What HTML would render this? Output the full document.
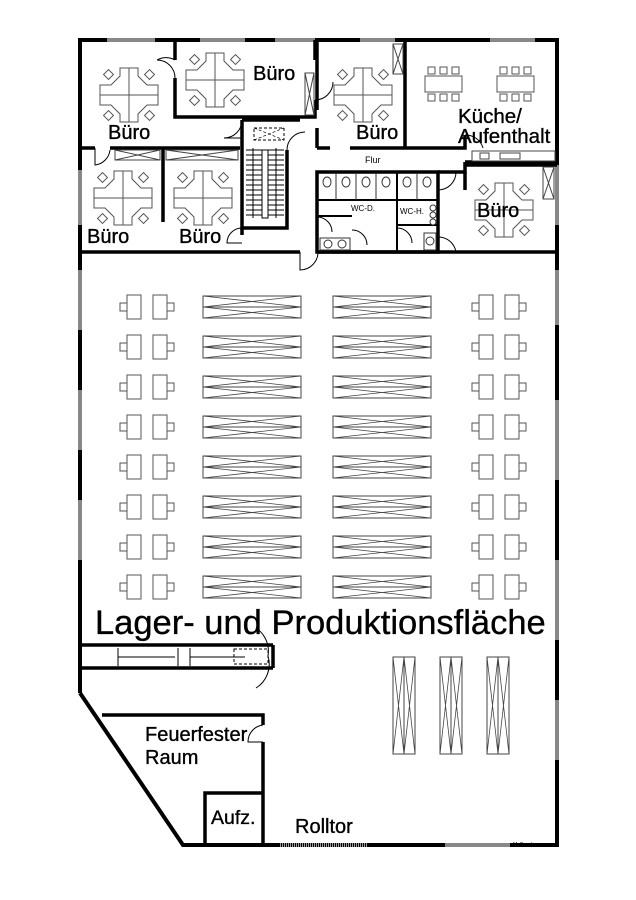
<!DOCTYPE html>
<html><head><meta charset="utf-8"><style>
html,body{margin:0;padding:0;background:#fff;}
svg{display:block;}
text{font-family:"Liberation Sans",sans-serif;fill:#000;}
.t{stroke:#000;stroke-width:0.35;}
</style></head><body>
<svg width="636" height="900" viewBox="0 0 636 900" xmlns="http://www.w3.org/2000/svg">
<defs>
<g id="cl">
  <polygon points="-9,-27 9,-27 9,-19 18,-10 29,-10 29,10 18,10 9,19 9,27 -9,27 -9,19 -18,10 -29,10 -29,-10 -18,-10 -9,-19" fill="#fff" stroke="#555" stroke-width="1"/>
  <line x1="0" y1="-27" x2="0" y2="27" stroke="#555" stroke-width="1"/>
  <line x1="-29" y1="0" x2="29" y2="0" stroke="#555" stroke-width="1"/>
  <rect x="-24" y="-24" width="7" height="7" transform="rotate(45 -20.5 -20.5)" fill="#fff" stroke="#555"/>
  <rect x="17" y="-24" width="7" height="7" transform="rotate(45 20.5 -20.5)" fill="#fff" stroke="#555"/>
  <rect x="-24" y="17" width="7" height="7" transform="rotate(45 -20.5 20.5)" fill="#fff" stroke="#555"/>
  <rect x="17" y="17" width="7" height="7" transform="rotate(45 20.5 20.5)" fill="#fff" stroke="#555"/>
</g>
<g id="shelf">
  <rect x="0" y="0" width="98" height="22" fill="#fff" stroke="#444"/>
  <line x1="0" y1="11" x2="98" y2="11" stroke="#444"/>
  <path d="M0 0 L98 11 M0 11 L98 0 M0 11 L98 22 M0 22 L98 11" stroke="#444" stroke-width="0.8" fill="none"/>
</g>
<g id="dl">
  <rect x="8" y="-12" width="14" height="24" fill="#fff" stroke="#555"/>
  <rect x="1" y="-4" width="7" height="8" fill="#fff" stroke="#555"/>
</g>
<g id="dr">
  <rect x="0" y="-12" width="14" height="24" fill="#fff" stroke="#555"/>
  <rect x="14" y="-4" width="7" height="8" fill="#fff" stroke="#555"/>
</g>
<g id="row">
  <use href="#dl" x="119"/><use href="#dr" x="153"/>
  <use href="#shelf" x="203" y="-11"/><use href="#shelf" x="333" y="-11"/>
  <use href="#dl" x="471"/><use href="#dr" x="505"/>
</g>
<g id="rack">
  <rect x="0" y="0" width="22" height="97" fill="#fff" stroke="#444"/>
  <line x1="11" y1="0" x2="11" y2="97" stroke="#444"/>
  <path d="M0 0 L11 97 M11 0 L0 97 M11 0 L22 97 M22 0 L11 97" stroke="#444" stroke-width="0.8" fill="none"/>
</g>
</defs>

<g stroke="#000" stroke-width="4" fill="none">
  <polyline points="80,693 80,40 557,40 557,845 183,845 80,693"/>
</g>
<g stroke="#888" stroke-width="4">
  <line x1="107" y1="40" x2="155" y2="40"/><line x1="200" y1="40" x2="245" y2="40"/>
  <line x1="275" y1="40" x2="315" y2="40"/><line x1="360" y1="40" x2="395" y2="40"/>
  <line x1="490" y1="40" x2="535" y2="40"/>
  <line x1="80" y1="170" x2="80" y2="225"/><line x1="80" y1="270" x2="80" y2="330"/>
  <line x1="80" y1="390" x2="80" y2="450"/><line x1="80" y1="500" x2="80" y2="560"/>
  <line x1="557" y1="165" x2="557" y2="225"/><line x1="557" y1="270" x2="557" y2="325"/>
  <line x1="557" y1="400" x2="557" y2="480"/><line x1="557" y1="560" x2="557" y2="640"/>
  <line x1="557" y1="700" x2="557" y2="760"/>
  <line x1="445" y1="845" x2="510" y2="845"/>
</g>
<line x1="280" y1="845" x2="368" y2="845" stroke="#999" stroke-width="4" stroke-dasharray="1,1"/>

<g stroke="#000" stroke-width="3.5" fill="none">
  <line x1="80" y1="252" x2="300" y2="252"/><line x1="318" y1="252" x2="557" y2="252"/>
  <line x1="80" y1="148" x2="95" y2="148"/><line x1="110" y1="148" x2="240" y2="148"/>
  <polyline points="175,40 175,60"/><polyline points="175,78 175,117 315,117 315,100"/>
  <polyline points="315,60 315,40"/>
  <line x1="317" y1="40" x2="317" y2="110"/><line x1="317" y1="128" x2="317" y2="148"/>
  <line x1="317" y1="148" x2="330" y2="148"/><line x1="350" y1="148" x2="440" y2="148"/>
  <line x1="405" y1="40" x2="405" y2="148"/>
  <polyline points="440,148 465,148 465,135"/>
  <polyline points="465,162 557,162"/>
  <polyline points="465,162 465,172 438,172"/>
  <line x1="465" y1="165" x2="557" y2="165"/>
  <polyline points="465,172 465,190"/>
  <line x1="163" y1="148" x2="163" y2="222"/>
  <polyline points="242,120 242,228 287,228 287,150"/>
  <line x1="242" y1="120" x2="300" y2="120"/>
  <polyline points="242,228 242,235"/>
  <rect x="317" y="172" width="121" height="80"/>
  <line x1="80" y1="645" x2="273" y2="645"/><line x1="80" y1="668" x2="273" y2="668"/>
  <line x1="273" y1="645" x2="273" y2="668"/>
  <polyline points="102,715 263,715 263,725"/><line x1="263" y1="742" x2="263" y2="845"/>
  <polyline points="205,845 205,793 263,793"/>
</g>
<g stroke="#000" stroke-width="2" fill="none">
  <line x1="397" y1="172" x2="397" y2="252"/>
  <line x1="317" y1="216" x2="352" y2="216"/>
  <line x1="397" y1="225" x2="438" y2="225"/>
  <line x1="317" y1="200" x2="438" y2="200"/>
</g>
<g stroke="#333" stroke-width="1" fill="#fff">
  <line x1="336" y1="173" x2="336" y2="200"/><line x1="356" y1="173" x2="356" y2="200"/>
  <line x1="376" y1="173" x2="376" y2="200"/><line x1="417" y1="173" x2="417" y2="200"/>
  <ellipse cx="327" cy="182" rx="4" ry="5"/><ellipse cx="346" cy="182" rx="4" ry="5"/>
  <ellipse cx="366" cy="182" rx="4" ry="5"/><ellipse cx="386" cy="182" rx="4" ry="5"/>
  <ellipse cx="407" cy="182" rx="4" ry="5"/><ellipse cx="427" cy="182" rx="4" ry="5"/>
  <rect x="320" y="238" width="30" height="12"/>
  <circle cx="328" cy="244" r="4"/><circle cx="342" cy="244" r="4"/>
  <rect x="424" y="233" width="12" height="17"/><circle cx="430" cy="241" r="4"/>
  <circle cx="433" cy="208" r="3"/><circle cx="433" cy="215" r="3"/><circle cx="433" cy="222" r="3"/>
</g>
<g stroke="#000" stroke-width="1" fill="none">
  <path d="M175 60 A18 18 0 0 0 157 60 M175 78 A18 18 0 0 0 157 60"/>
  <path d="M315 100 A18 18 0 0 0 333 82"/>
  <path d="M95 148 L95 165 A17 17 0 0 0 110 150"/>
  <path d="M242 120 A18 18 0 0 1 224 138 L242 138"/>
  <path d="M242 228 A15 15 0 0 0 227 243 L242 243"/>
  <path d="M287 150 A18 18 0 0 1 305 132"/>
  <path d="M465 135 A18 18 0 0 1 483 148"/>
  <path d="M438 172 L438 190 A18 18 0 0 0 456 172"/>
  <path d="M300 252 L300 270 A18 18 0 0 0 318 252"/>
  <path d="M438 237 A18 18 0 0 1 456 252"/>
  <path d="M263 725 A17 17 0 0 0 248 742 L263 742"/>
  <path d="M256 628 A28 28 0 0 1 268 656 A28 28 0 0 1 256 688"/>
  <path d="M317 217 A15 15 0 0 1 332 232 M352 230 A15 15 0 0 1 367 245 M397 228 A15 15 0 0 1 412 243"/>
</g>
<g stroke="#000" stroke-width="1">
  <path d="M246 150 H284 M246 155 H284 M246 160 H284 M246 165 H284 M246 170 H284 M246 175 H284 M246 180 H284 M246 185 H284 M246 190 H284 M246 195 H284 M246 200 H284 M246 205 H284 M246 210 H284 M246 215 H284"/>
  <rect x="262" y="150" width="6" height="68" fill="#fff"/>
  <line x1="253" y1="148" x2="253" y2="218"/><line x1="276" y1="148" x2="276" y2="218"/>
</g>
<rect x="254" y="128" width="30" height="12" fill="none" stroke="#000" stroke-dasharray="3,2"/>
<path d="M254 128 L284 140 M254 140 L284 128" stroke="#000" stroke-width="0.7" stroke-dasharray="3,2"/>
<g stroke="#444" stroke-width="1" fill="#fff">
  <rect x="305" y="73" width="9" height="42"/><path d="M305 73 L314 115 M314 73 L305 115" fill="none"/>
  <rect x="393" y="44" width="10" height="30"/><path d="M393 44 L403 74 M403 44 L393 74" fill="none"/>
  <rect x="115" y="150" width="45" height="10"/><path d="M115 150 L160 160 M115 160 L160 150" fill="none"/>
  <rect x="166" y="150" width="72" height="10"/><path d="M166 150 L238 160 M166 160 L238 150" fill="none"/>
  <rect x="543" y="167" width="11" height="32"/><path d="M543 167 L554 199 M554 167 L543 199" fill="none"/>
  <rect x="472" y="151" width="83" height="10"/>
  <rect x="480" y="153" width="9" height="6"/><rect x="500" y="153" width="20" height="6"/>
</g>
<g stroke="#555" stroke-width="1" fill="#fff">
  <rect x="425" y="76" width="37" height="16"/><rect x="497" y="76" width="37" height="16"/>
  <rect x="428" y="67" width="7" height="7"/><rect x="440" y="67" width="7" height="7"/><rect x="452" y="67" width="7" height="7"/>
  <rect x="428" y="94" width="7" height="7"/><rect x="440" y="94" width="7" height="7"/><rect x="452" y="94" width="7" height="7"/>
  <rect x="500" y="67" width="7" height="7"/><rect x="512" y="67" width="7" height="7"/><rect x="524" y="67" width="7" height="7"/>
  <rect x="500" y="94" width="7" height="7"/><rect x="512" y="94" width="7" height="7"/><rect x="524" y="94" width="7" height="7"/>
</g>
<use href="#cl" x="129" y="95"/><use href="#cl" x="215" y="80"/>
<use href="#cl" x="363" y="95"/><use href="#cl" x="123" y="198"/>
<use href="#cl" x="203" y="198"/><use href="#cl" x="504" y="210"/>
<use href="#row" y="307"/><use href="#row" y="347"/><use href="#row" y="387"/><use href="#row" y="427"/>
<use href="#row" y="467"/><use href="#row" y="507"/><use href="#row" y="547"/><use href="#row" y="587"/>
<use href="#rack" x="393" y="657"/><use href="#rack" x="440" y="657"/><use href="#rack" x="487" y="657"/>
<g stroke="#000" stroke-width="1" fill="none">
  <line x1="118" y1="648" x2="118" y2="666"/><line x1="178" y1="648" x2="178" y2="666"/><line x1="190" y1="648" x2="190" y2="666"/>
  <line x1="118" y1="657" x2="175" y2="657"/><line x1="190" y1="657" x2="245" y2="657"/>
  <rect x="234" y="649" width="34" height="15" stroke-dasharray="3,2"/>
</g>
<g class="t">
<text x="253" y="80" font-size="20">Büro</text>
<text x="108" y="139" font-size="20">Büro</text>
<text x="356" y="139" font-size="20">Büro</text>
<text x="458" y="123" font-size="20.5">Küche/</text>
<text x="458" y="143" font-size="20.5">Aufenthalt</text>
<text x="477" y="217" font-size="20">Büro</text>
<text x="87" y="243" font-size="20">Büro</text>
<text x="179" y="243" font-size="20">Büro</text>
<text x="95" y="634" font-size="34.5">Lager- und Produktionsfläche</text>
<text x="145" y="741" font-size="20">Feuerfester</text>
<text x="145" y="764" font-size="20">Raum</text>
<text x="211" y="824" font-size="19.5">Aufz.</text>
<text x="295" y="833" font-size="20">Rolltor</text>
</g>
<text x="365" y="163" font-size="9">Flur</text>
<text x="351" y="211" font-size="8">WC-D.</text>
<text x="400" y="214" font-size="8">WC-H.</text>
<text x="513" y="846" font-size="5" fill="#777">McGundrys</text>
</svg>
</body></html>
